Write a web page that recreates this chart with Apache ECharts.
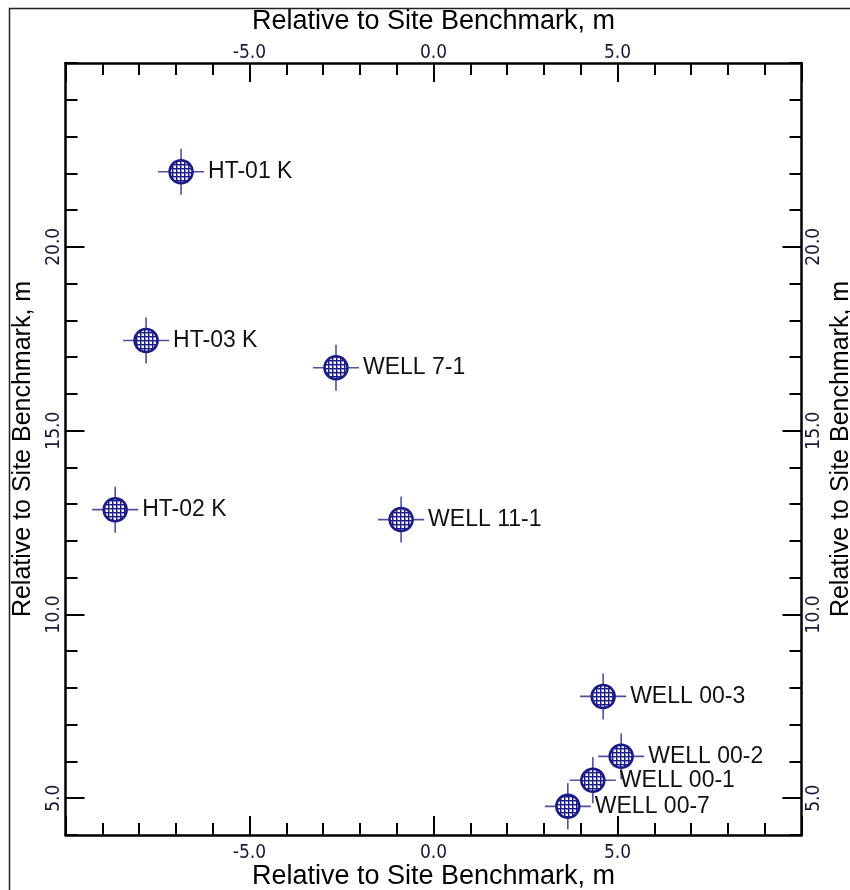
<!DOCTYPE html>
<html>
<head>
<meta charset="utf-8">
<script src="https://cdn.jsdelivr.net/npm/echarts@6/dist/echarts.min.js"></script>
<style>
html,body{margin:0;padding:0;background:#fff;}
#chart{width:850px;height:890px;}
</style>
</head>
<body>
<div id="chart"></div>
<script>
// ---- data ----
const pointNames = ['HT-01 K','HT-03 K','WELL 7-1','HT-02 K','WELL 11-1','WELL 00-3','WELL 00-2','WELL 00-1','WELL 00-7'];
const xValues = [-6.86,-7.81,-2.65,-8.65,-0.88,4.61,5.10,4.33,3.65];
const yValues = [22.04,17.45,16.71,12.85,12.58,7.77,6.14,5.49,4.78];
const xTickValues = [-5,0,5];
const yTickValues = [5,10,15,20];
const axisTitle = 'Relative to Site Benchmark, m';

// ---- styles ----
const navy = '#1c1c88';
const crossColor = '#50509f';
const tickFont = '"Liberation Sans Narrow","DejaVu Sans Condensed","Liberation Sans",Arial,sans-serif';
const mainFont = '"Liberation Sans",Arial,sans-serif';

const pc = document.createElement('canvas');
pc.width = 4; pc.height = 4;
const pctx = pc.getContext('2d');
pctx.fillStyle = '#ffffff'; pctx.fillRect(0,0,4,4);
pctx.fillStyle = '#8c8cc8'; pctx.fillRect(0,1,4,1); pctx.fillRect(1,0,1,4);
pctx.fillStyle = navy; pctx.fillRect(0,0,4,1); pctx.fillRect(0,0,1,4);
const hatch = {image: pc, repeat: 'repeat'};

const fmt = v => v.toFixed(1);

function xAxisCfg(pos, gap) {
  return {
    type: 'value', position: pos, min: -10, max: 10, interval: 5,
    name: axisTitle, nameLocation: 'middle', nameGap: gap, nameMoveOverlap: false,
    nameTextStyle: {fontFamily: mainFont, fontSize: 27, color: '#000'},
    axisLine: {show: true, onZero: false, lineStyle: {color: '#000', width: 2.5}},
    axisTick: {show: true, inside: true, length: 19, lineStyle: {color: '#000', width: 2}},
    minorTick: {show: true, splitNumber: 5, length: 12, lineStyle: {color: '#000', width: 2}},
    axisLabel: {customValues: xTickValues, formatter: fmt, fontFamily: tickFont, fontSize: 19, color: '#1a1a3a', margin: pos === 'top' ? 0 : 9},
    splitLine: {show: false}, minorSplitLine: {show: false}
  };
}
function yAxisMajor(pos, gap) {
  return {
    type: 'value', position: pos, min: 4, max: 25,
    name: axisTitle, nameLocation: 'middle', nameGap: gap, nameMoveOverlap: false,
    nameTextStyle: {fontFamily: mainFont, fontSize: 25, color: '#000'},
    axisLine: {show: true, onZero: false, lineStyle: {color: '#000', width: 2.5}},
    axisTick: {show: true, inside: true, length: 19, customValues: yTickValues, lineStyle: {color: '#000', width: 2}},
    axisLabel: {customValues: yTickValues, formatter: fmt, rotate: 90, fontFamily: tickFont, fontSize: 19, color: '#1a1a3a', margin: pos === 'left' ? 2 : 3},
    splitLine: {show: false}
  };
}
function yAxisMinor(pos) {
  return {
    type: 'value', position: pos, min: 4, max: 25, interval: 1,
    axisLine: {show: false, onZero: false},
    axisTick: {show: true, inside: true, length: 12, lineStyle: {color: '#000', width: 2}},
    axisLabel: {show: false},
    splitLine: {show: false}
  };
}

const chart = echarts.init(document.getElementById('chart'), null, {renderer: 'canvas'});
chart.setOption({
  animation: false,
  backgroundColor: '#fff',
  grid: {left: 65.5, right: 48.5, top: 63, bottom: 55, containLabel: false, outerBoundsMode: 'none'},
  graphic: [{
    type: 'rect', silent: true, z: 100,
    shape: {x: 9.5, y: 8.5, width: 900, height: 900},
    style: {fill: 'none', stroke: '#222', lineWidth: 1.5}
  }],
  xAxis: [xAxisCfg('bottom', 28), xAxisCfg('top', 28)],
  yAxis: [yAxisMajor('left', 30), yAxisMajor('right', 27), yAxisMinor('left'), yAxisMinor('right')],
  series: [{
    type: 'custom',
    xAxisIndex: 0, yAxisIndex: 0,
    data: xValues.map((x, i) => [x, yValues[i]]),
    renderItem: function (params, api) {
      const p = api.coord([api.value(0), api.value(1)]);
      const name = pointNames[params.dataIndex];
      return {
        type: 'group',
        children: [
          {type: 'line', shape: {x1: p[0] - 23, y1: p[1], x2: p[0] + 23, y2: p[1]}, style: {stroke: crossColor, lineWidth: 1.6}},
          {type: 'line', shape: {x1: p[0], y1: p[1] - 23, x2: p[0], y2: p[1] + 23}, style: {stroke: crossColor, lineWidth: 1.6}},
          {type: 'circle', shape: {cx: p[0], cy: p[1], r: 11.5}, style: {fill: hatch, stroke: navy, lineWidth: 2.5}},
          {type: 'text', x: p[0] + 27, y: p[1], style: {text: name, fill: '#111', fontSize: 23, fontFamily: mainFont, align: 'left', verticalAlign: 'middle'}}
        ]
      };
    }
  }]
});
</script>
</body>
</html>
